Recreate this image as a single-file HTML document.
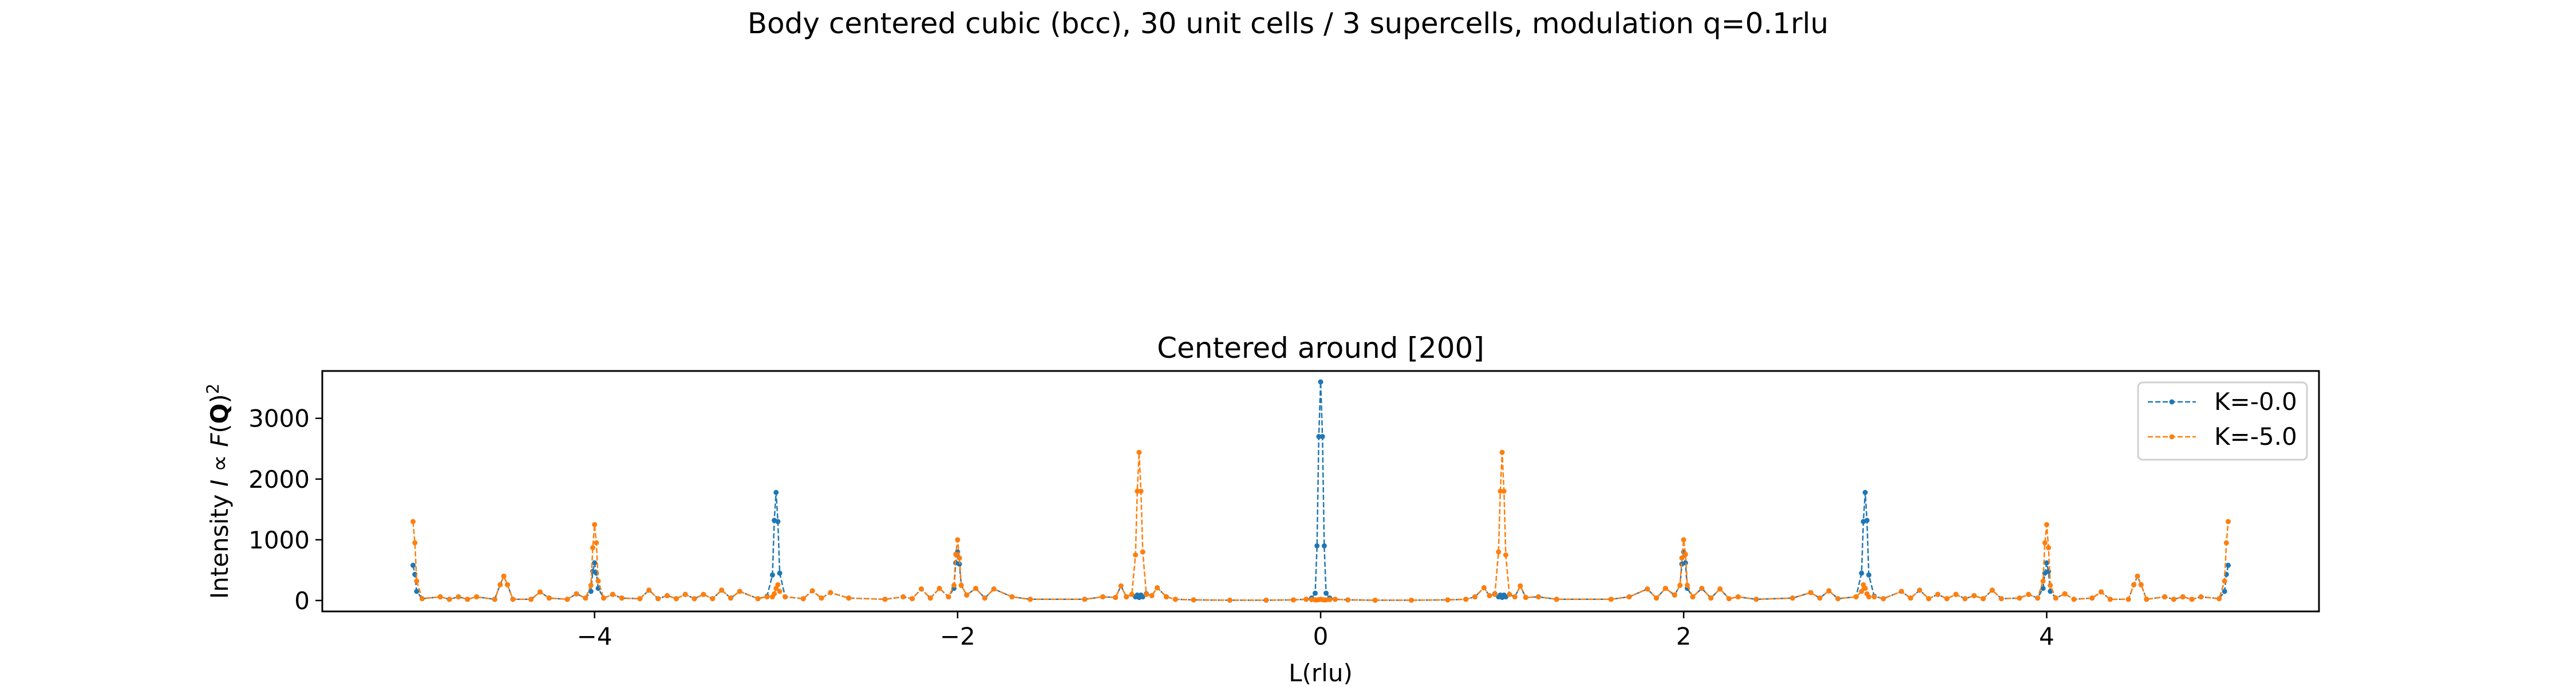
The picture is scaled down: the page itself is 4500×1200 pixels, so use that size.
<!DOCTYPE html>
<html><head><meta charset="utf-8"><style>
html,body{margin:0;padding:0;background:#fff;}
svg{display:block;font-family:"DejaVu Sans","Liberation Sans",sans-serif;}
</style></head><body>
<svg id="chart" width="4500" height="1200" viewBox="0 0 4500 1200" xmlns="http://www.w3.org/2000/svg">
<text x="2250" y="58" font-size="50" text-anchor="middle">Body centered cubic (bcc), 30 unit cells / 3 supercells, modulation q=0.1rlu</text>
<text x="2307" y="625" font-size="50" text-anchor="middle">Centered around [200]</text>
<text x="2307" y="1190" font-size="42" text-anchor="middle">L(rlu)</text>
<text transform="translate(398,858) rotate(-90)" font-size="42" text-anchor="middle">Intensity <tspan font-style="italic">I</tspan> ∝ <tspan font-style="italic">F</tspan>(<tspan font-weight="bold">Q</tspan>)<tspan font-size="29" dy="-16">2</tspan></text>
<g id="ticks"></g>
<g id="series"></g>
<rect x="563" y="648" width="3488" height="420" fill="none" stroke="#000" stroke-width="3"/>
<g>
<rect x="3735" y="668" width="295" height="135" rx="8" fill="#fff" fill-opacity="0.8" stroke="#d0d0d0" stroke-width="3"/>
<g>
<line x1="3752" y1="702" x2="3836" y2="702" stroke="#1f77b4" stroke-width="2.5" stroke-dasharray="9,4"/>
<circle cx="3794" cy="702" r="4.5" fill="#1f77b4"/>
<text x="3868" y="716" font-size="42">K=-0.0</text></g>
<g>
<line x1="3752" y1="763" x2="3836" y2="763" stroke="#ff7f0e" stroke-width="2.5" stroke-dasharray="9,4"/>
<circle cx="3794" cy="763" r="4.5" fill="#ff7f0e"/>
<text x="3868" y="777" font-size="42">K=-5.0</text></g>
</g>
</svg>
<script>
const lValues=[-5.00,-4.99,-4.98,-4.95,-4.85,-4.8,-4.75,-4.7,-4.65,-4.55,-4.52,-4.5,-4.48,-4.45,-4.35,-4.3,-4.25,-4.15,-4.1,-4.05,-4.02,-4.01,-4.00,-3.99,-3.98,-3.95,-3.9,-3.85,-3.75,-3.7,-3.65,-3.6,-3.55,-3.5,-3.45,-3.4,-3.35,-3.3,-3.25,-3.2,-3.1,-3.05,-3.02,-3.01,-3.00,-2.99,-2.98,-2.95,-2.85,-2.8,-2.75,-2.7,-2.6,-2.4,-2.3,-2.25,-2.2,-2.15,-2.1,-2.05,-2.02,-2.01,-2.00,-1.99,-1.98,-1.95,-1.9,-1.85,-1.8,-1.7,-1.6,-1.3,-1.2,-1.13,-1.1,-1.07,-1.04,-1.02,-1.01,-1.00,-0.99,-0.98,-0.96,-0.93,-0.9,-0.85,-0.8,-0.7,-0.5,-0.3,-0.15,-0.08,-0.05,-0.03,-0.02,-0.01,
0,
0.01,0.02,0.03,0.05,0.08,0.15,0.3,0.5,0.7,0.8,0.85,0.9,0.93,0.96,0.98,0.99,1.00,1.01,1.02,1.04,1.07,1.1,1.13,1.2,1.3,1.6,1.7,1.8,1.85,1.9,1.95,1.98,1.99,2.00,2.01,2.02,2.05,2.1,2.15,2.2,2.25,2.3,2.4,2.6,2.7,2.75,2.8,2.85,2.95,2.98,2.99,3.00,3.01,3.02,3.05,3.1,3.2,3.25,3.3,3.35,3.4,3.45,3.5,3.55,3.6,3.65,3.7,3.75,3.85,3.9,3.95,3.98,3.99,4.00,4.01,4.02,4.05,4.1,4.15,4.25,4.3,4.35,4.45,4.48,4.5,4.52,4.55,4.65,4.7,4.75,4.8,4.85,4.95,4.98,4.99,5.00];
const blueValues=[580,430,150,30,60,20,60,20,60,20,260,400,260,20,20,140,40,20,110,40,150,480,620,450,200,40,100,40,30,170,30,80,30,100,30,100,30,170,40,150,30,70,420,1320,1780,1300,450,60,30,160,40,130,40,20,60,30,190,40,200,60,200,620,800,600,250,90,200,40,190,60,20,20,60,50,240,60,100,60,90,50,90,60,110,80,210,60,20,10,5,5,10,20,40,120,900,2700,
3600,
2700,900,120,40,20,10,5,5,10,20,60,210,80,110,60,90,50,90,60,100,60,240,50,60,20,20,60,190,40,200,90,250,600,800,620,200,60,200,40,190,30,60,20,40,130,40,160,30,60,450,1300,1780,1320,420,70,30,150,40,170,30,100,30,100,30,80,30,170,30,40,100,40,200,450,620,480,150,40,110,20,40,140,20,20,260,400,260,20,60,20,60,20,60,30,150,430,580];
const orangeValues=[1300,950,320,30,60,20,60,20,60,20,260,400,260,20,20,140,40,20,110,40,250,870,1250,950,320,40,100,40,30,170,30,80,30,100,30,100,30,170,40,150,30,60,60,110,200,260,150,60,30,160,40,130,40,20,60,30,190,40,200,60,250,760,1000,700,250,90,200,40,190,60,20,20,60,50,240,60,100,750,1800,2440,1800,800,100,80,210,60,20,10,5,5,10,20,15,10,10,15,
20,
15,10,10,15,20,10,5,5,10,20,60,210,80,100,800,1800,2440,1800,750,100,60,240,50,60,20,20,60,190,40,200,90,250,700,1000,760,250,60,200,40,190,30,60,20,40,130,40,160,30,60,150,260,200,110,60,60,30,150,40,170,30,100,30,100,30,80,30,170,30,40,100,40,320,950,1250,870,250,40,110,20,40,140,20,20,260,400,260,20,60,20,60,20,60,30,320,950,1300];
const xTicks=[-4,-2,0,2,4];
const xTickLabels=["−4","−2","0","2","4"];
const yTicks=[0,1000,2000,3000];
const yTickLabels=["0","1000","2000","3000"];

const NS="http://www.w3.org/2000/svg";
const X0=563,X1=4051,Y0=648,Y1=1068;
const xMin=-5.5,xMax=5.5,yMin=-180,yMax=3780;
function xs(v){return X0+(v-xMin)/(xMax-xMin)*(X1-X0);}
function ys(v){return Y1-(v-yMin)/(yMax-yMin)*(Y1-Y0);}
function mk(tag,attrs,parent){const e=document.createElementNS(NS,tag);for(const k in attrs)e.setAttribute(k,attrs[k]);parent.appendChild(e);return e;}

const tg=document.getElementById('ticks');
xTicks.forEach((t,i)=>{
  const l=mk('line',{x1:xs(t),x2:xs(t),y1:Y1,y2:Y1+12,stroke:'#000','stroke-width':2.5},tg);
  
  
  const tx=mk('text',{x:xs(t),y:Y1+58,'font-size':42,'text-anchor':'middle'},tg);
  tx.textContent=xTickLabels[i];
  
  
});
yTicks.forEach((t,i)=>{
  const l=mk('line',{x1:X0-12,x2:X0,y1:ys(t),y2:ys(t),stroke:'#000','stroke-width':2.5},tg);
  
  
  const tx=mk('text',{x:X0-22,y:ys(t)+15,'font-size':42,'text-anchor':'end'},tg);
  tx.textContent=yTickLabels[i];
  
  
});

const sg=document.getElementById('series');
function drawSeries(vals,color,name){
  const g=mk('g',{},sg);
  
  
  const d=lValues.map((l,i)=>(i?'L':'M')+xs(l).toFixed(1)+' '+ys(vals[i]).toFixed(1)).join(' ');
  const p=mk('path',{d:d,fill:'none',stroke:color,'stroke-width':2.5,'stroke-dasharray':'9,4'},g);
  
  
  lValues.forEach((l,i)=>{
    const c=mk('circle',{cx:xs(l),cy:ys(vals[i]),r:4.5,fill:color},g);
    
    
  });
}
drawSeries(blueValues,'#1f77b4','series-k0');
drawSeries(orangeValues,'#ff7f0e','series-k5');
</script>
</body></html>
